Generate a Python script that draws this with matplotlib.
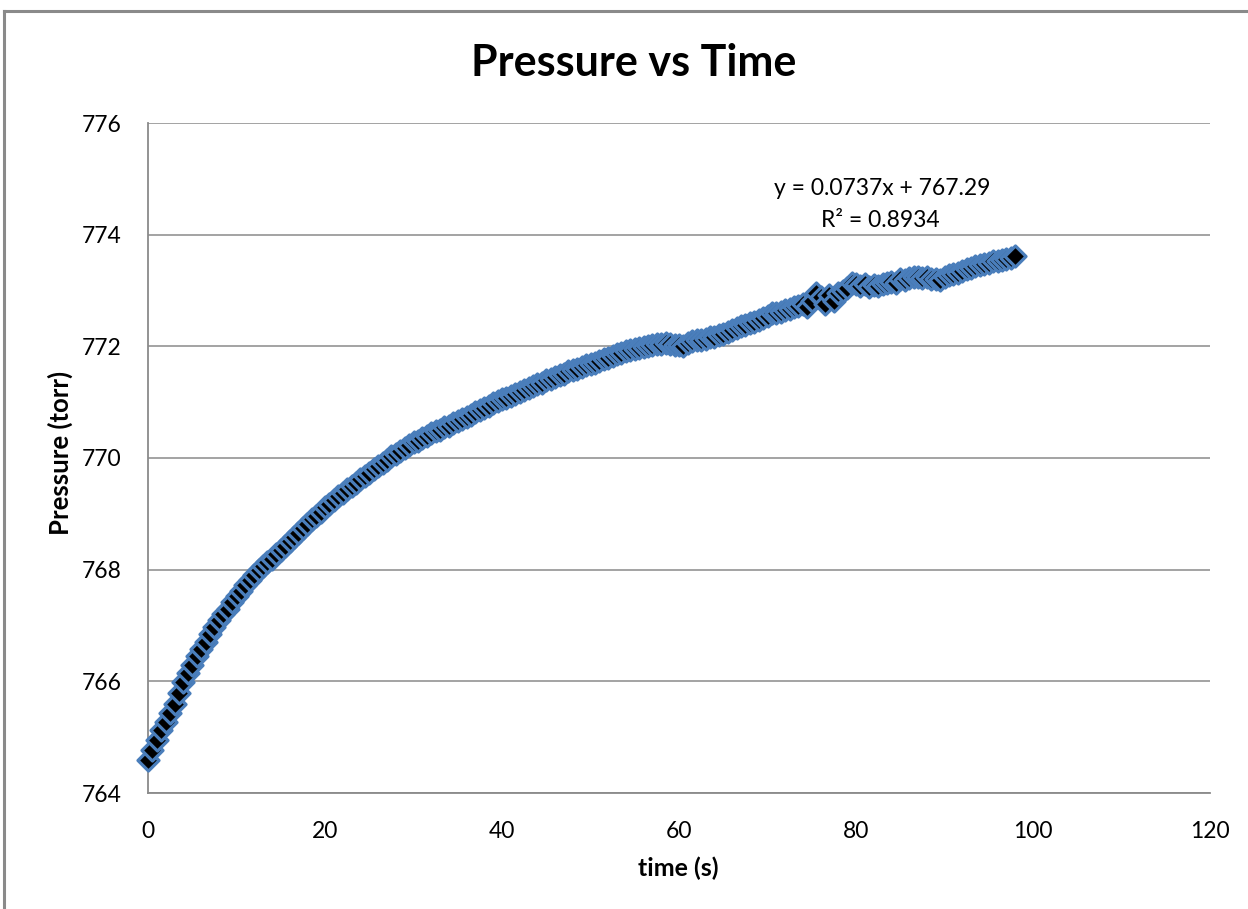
import numpy as np
import matplotlib
matplotlib.use("Agg")
import matplotlib.pyplot as plt
from matplotlib.lines import Line2D

plt.rcParams['font.family'] = ['Lato', 'DejaVu Sans']

# ---- data ----
time_s = np.arange(0, 98.5, 0.5)
pressure_torr = [
    764.60, 764.77, 764.95, 765.13, 765.28, 765.43, 765.60, 765.80, 765.98, 766.15,
    766.30, 766.45, 766.58, 766.70, 766.85, 766.98, 767.10, 767.20, 767.30, 767.42,
    767.52, 767.61, 767.72, 767.82, 767.90, 767.99, 768.06, 768.14, 768.20, 768.28,
    768.35, 768.43, 768.52, 768.58, 768.66, 768.75, 768.82, 768.90, 768.97, 769.04,
    769.12, 769.18, 769.25, 769.32, 769.38, 769.45, 769.50, 769.55, 769.62, 769.68,
    769.74, 769.80, 769.86, 769.91, 769.97, 770.03, 770.08, 770.13, 770.18, 770.24,
    770.28, 770.31, 770.36, 770.40, 770.44, 770.48, 770.51, 770.55, 770.58, 770.63,
    770.66, 770.70, 770.74, 770.77, 770.82, 770.86, 770.90, 770.93, 770.98, 771.02,
    771.05, 771.08, 771.11, 771.15, 771.18, 771.22, 771.25, 771.29, 771.32, 771.35,
    771.39, 771.42, 771.45, 771.48, 771.51, 771.55, 771.57, 771.60, 771.63, 771.66,
    771.69, 771.71, 771.74, 771.77, 771.80, 771.83, 771.86, 771.88, 771.91, 771.93,
    771.95, 771.97, 771.99, 772.01, 772.02, 772.05, 772.04, 772.06, 772.04, 772.02,
    772.03, 772.01, 772.06, 772.09, 772.12, 772.11, 772.14, 772.16, 772.17, 772.20,
    772.22, 772.26, 772.30, 772.33, 772.36, 772.39, 772.42, 772.44, 772.48, 772.51,
    772.55, 772.60, 772.60, 772.62, 772.65, 772.67, 772.70, 772.73, 772.76, 772.70,
    772.82, 772.95, 772.88, 772.75, 772.92, 772.82, 772.95, 773.00, 773.05, 773.13,
    773.12, 773.08, 773.12, 773.06, 773.10, 773.08, 773.12, 773.14, 773.16, 773.13,
    773.20, 773.18, 773.23, 773.25, 773.25, 773.22, 773.24, 773.21, 773.20, 773.18,
    773.24, 773.27, 773.30, 773.32, 773.35, 773.38, 773.40, 773.43, 773.45, 773.48,
    773.49, 773.52, 773.52, 773.55, 773.56, 773.59, 773.62,
]
x_ticks = [0, 20, 40, 60, 80, 100, 120]
y_ticks = [764, 766, 768, 770, 772, 774, 776]
title = "Pressure vs Time"
x_label = "time (s)"
y_label = "Pressure (torr)"
equation = "y = 0.0737x + 767.29"
r_squared = "R² = 0.8934"

W, H = 1248, 909
fig = plt.figure(figsize=(W / 100, H / 100), dpi=100)
fig.patch.set_facecolor("white")

# outer chart border (left and top visible)
border_col = "#8a8a8a"
fig.add_artist(Line2D([4 / W, 4 / W], [0, 1 - 11 / H], transform=fig.transFigure,
                      color=border_col, lw=2.2))
fig.add_artist(Line2D([4 / W, 1], [1 - 11 / H, 1 - 11 / H], transform=fig.transFigure,
                      color=border_col, lw=2.2))

ax = fig.add_axes([148 / W, 1 - 793 / H, (1210 - 148) / W, (793 - 123) / H])

ax.scatter(time_s, pressure_torr, marker="D", s=115, facecolor="black",
           edgecolor="#4a7ebb", linewidths=2.3, zorder=3, clip_on=False)

ax.set_xlim(0, 120)
ax.set_ylim(764, 776)
ax.set_xticks(x_ticks)
ax.set_yticks(y_ticks)
ax.set_xticklabels([str(v) for v in x_ticks])
ax.set_yticklabels([str(v) for v in y_ticks])
ax.tick_params(axis="both", length=0, labelsize=16.5, colors="black")
ax.tick_params(axis="y", pad=19)
ax.tick_params(axis="x", pad=20)

ax.grid(axis="y", color="#8a8a8a", lw=1.1)
ax.set_axisbelow(True)
for s in ["top", "right"]:
    ax.spines[s].set_visible(False)
for s in ["left", "bottom"]:
    ax.spines[s].set_color("#8a8a8a")
    ax.spines[s].set_linewidth(1.3)

fig.text(634 / W, 1 - 63 / H, title, ha="center", va="center", fontsize=31,
         fontweight="bold")
fig.text(678 / W, 1 - 868 / H, x_label, ha="center", va="center", fontsize=18,
         fontweight="bold")
fig.text(60 / W, 1 - 453 / H, y_label, ha="center", va="center", fontsize=18.5,
         fontweight="bold", rotation=90)

ax.text(83.0, 774.82, equation, ha="center", va="center", fontsize=16.5)
ax.text(82.8, 774.25, r_squared, ha="center", va="center", fontsize=16.5)

fig.savefig("out.png", dpi=100)
